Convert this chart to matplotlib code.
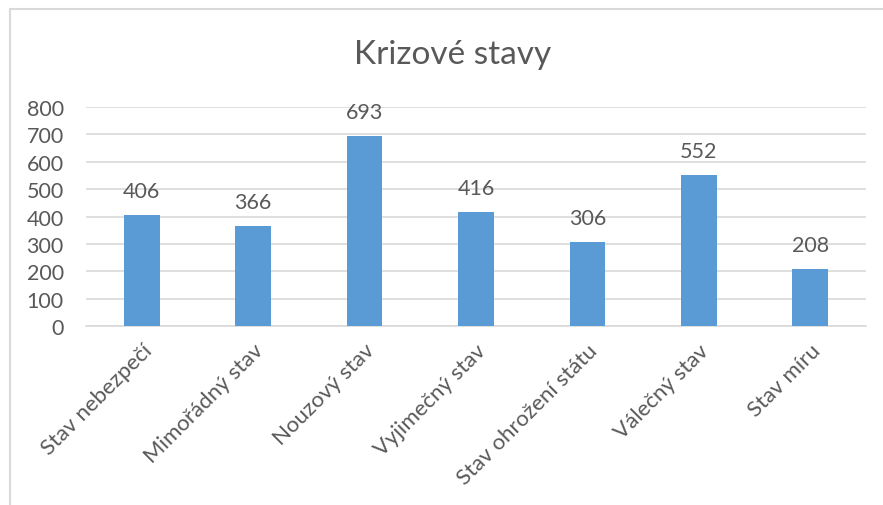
import numpy as np
import matplotlib.pyplot as plt
from matplotlib.patches import Rectangle

# data
kategorie = ["Stav nebezpečí", "Mimořádný stav", "Nouzový stav", "Vyjimečný stav",
             "Stav ohrožení státu", "Válečný stav", "Stav míru"]
hodnoty = [406, 366, 693, 416, 306, 552, 208]
yticks = [0, 100, 200, 300, 400, 500, 600, 700, 800]

plt.rcParams['font.family'] = ['Lato', 'DejaVu Sans']
sedy = '#595959'
fs = 15.5

fig = plt.figure(figsize=(8.83, 5.06), dpi=100)
ax = fig.add_axes([86/883, 1-327/506, 780/883, 219/506])

x = np.arange(len(kategorie))
bars = ax.bar(x, hodnoty, width=0.32, color='#5B9BD5', zorder=3)

for b, v in zip(bars, hodnoty):
    ax.annotate(str(v), (b.get_x() + b.get_width()/2, v), xytext=(0, 10),
                textcoords='offset points', ha='center', va='bottom',
                fontsize=fs, color=sedy)

ax.set_xlim(-0.5, len(kategorie) - 0.5)
ax.set_ylim(0, 800)
ax.set_yticks(yticks)
ax.set_yticklabels([str(t) for t in yticks], fontsize=fs, color=sedy)
ax.set_xticks(x)
ax.set_xticklabels(kategorie, rotation=45, ha='right', rotation_mode='anchor',
                   fontsize=16, color=sedy)
ax.tick_params(axis='both', length=0)
ax.tick_params(axis='x', pad=10)
ax.tick_params(axis='y', pad=16)
ax.grid(axis='y', color='#D9D9D9', linewidth=1.2, zorder=0)
for s in ['top', 'right', 'left']:
    ax.spines[s].set_visible(False)
ax.spines['bottom'].set_color('#D9D9D9')
ax.spines['bottom'].set_linewidth(1.2)

fig.text(453/883, 1-55/506, "Krizové stavy", ha='center', va='center',
         fontsize=24, color=sedy)

# ramecek grafu
fig.patches.append(Rectangle((9.5/883, -0.1), 1.0, 1-9.5/506 + 0.1,
                             transform=fig.transFigure, fill=False,
                             edgecolor='#D9D9D9', linewidth=1.5))

fig.savefig('out.png', dpi=100)
